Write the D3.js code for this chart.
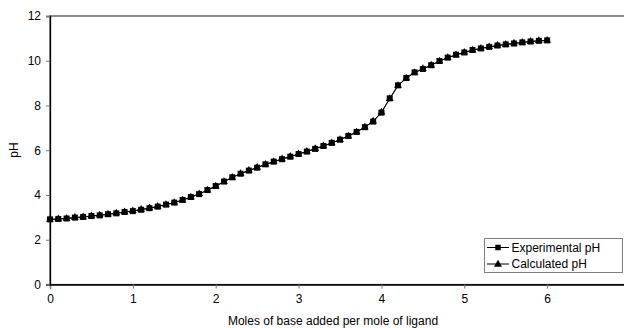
<!DOCTYPE html>
<html>
<head>
<meta charset="utf-8">
<script src="https://cdn.jsdelivr.net/npm/d3@7/dist/d3.min.js"></script>
<style>
  html, body { margin: 0; padding: 0; background: #fff; }
  svg { display: block; font-family: Arial, "Liberation Sans", sans-serif; }
</style>
</head>
<body>
<svg id="chart" width="624" height="328"></svg>
<script>
// Moles of base added per mole of ligand (0 to 6 in steps of 0.1)
const molesBase = [
  0.0, 0.1, 0.2, 0.3, 0.4, 0.5, 0.6, 0.7, 0.8, 0.9,
  1.0, 1.1, 1.2, 1.3, 1.4, 1.5, 1.6, 1.7, 1.8, 1.9,
  2.0, 2.1, 2.2, 2.3, 2.4, 2.5, 2.6, 2.7, 2.8, 2.9,
  3.0, 3.1, 3.2, 3.3, 3.4, 3.5, 3.6, 3.7, 3.8, 3.9,
  4.0, 4.1, 4.2, 4.3, 4.4, 4.5, 4.6, 4.7, 4.8, 4.9,
  5.0, 5.1, 5.2, 5.3, 5.4, 5.5, 5.6, 5.7, 5.8, 5.9, 6.0
];
const experimentalPH = [
  2.91, 2.93, 2.95, 2.99, 3.02, 3.06, 3.09, 3.14, 3.18, 3.24,
  3.28, 3.34, 3.41, 3.48, 3.57, 3.66, 3.78, 3.91, 4.04, 4.22,
  4.40, 4.60, 4.79, 4.95, 5.09, 5.22, 5.37, 5.49, 5.60, 5.71,
  5.83, 5.94, 6.06, 6.19, 6.33, 6.47, 6.64, 6.82, 7.03, 7.28,
  7.68, 8.32, 8.90, 9.23, 9.48, 9.63, 9.80, 9.99, 10.14, 10.27,
  10.37, 10.48, 10.55, 10.62, 10.68, 10.73, 10.77, 10.82, 10.86, 10.89, 10.91
];
const calculatedPH = [
  2.91, 2.93, 2.95, 2.99, 3.02, 3.06, 3.10, 3.14, 3.19, 3.24,
  3.29, 3.35, 3.42, 3.49, 3.57, 3.66, 3.77, 3.90, 4.05, 4.21,
  4.39, 4.59, 4.78, 4.95, 5.10, 5.23, 5.36, 5.49, 5.61, 5.72,
  5.83, 5.95, 6.07, 6.19, 6.32, 6.47, 6.63, 6.81, 7.03, 7.30,
  7.70, 8.30, 8.88, 9.22, 9.47, 9.64, 9.80, 9.98, 10.13, 10.26,
  10.37, 10.47, 10.55, 10.62, 10.68, 10.73, 10.78, 10.82, 10.86, 10.89, 10.91
];
const xTicks = [0, 1, 2, 3, 4, 5, 6];
const yTicks = [0, 2, 4, 6, 8, 10, 12];
const seriesNames = ["Experimental pH", "Calculated pH"];
const xTitle = "Moles of base added per mole of ligand";
const yTitle = "pH";

const svg = d3.select("#chart");
const x = d3.scaleLinear().domain([0, 7]).range([50, 630]);
const y = d3.scaleLinear().domain([0, 12]).range([284.5, 16]);

// plot area border (top edge visible, right edge off-canvas)
svg.append("rect")
  .attr("x", x(0)).attr("y", y(12))
  .attr("width", x(7) - x(0)).attr("height", y(0) - y(12))
  .attr("fill", "none").attr("stroke", "#404040").attr("stroke-width", 1.2);

// axes
const xAxis = svg.append("g").attr("transform", `translate(0,${y(0)})`)
  .call(d3.axisBottom(x).tickValues(xTicks).tickSize(4).tickPadding(6).tickFormat(d3.format("d")));
const yAxis = svg.append("g").attr("transform", `translate(${x(0)},0)`)
  .call(d3.axisLeft(y).tickValues(yTicks).tickSize(4).tickPadding(5).tickFormat(d3.format("d")));
[xAxis, yAxis].forEach(g => {
  g.select(".domain").attr("stroke", "#000").attr("stroke-width", 1.3);
  g.selectAll(".tick line").attr("stroke", "#777");
  g.selectAll(".tick text").attr("font-size", 12).attr("fill", "#000")
    .attr("font-family", "Arial, 'Liberation Sans', sans-serif");
});

// titles
svg.append("text").attr("x", 333).attr("y", 325)
  .attr("text-anchor", "middle").attr("font-size", 12).text(xTitle);
svg.append("text").attr("transform", `translate(18,150) rotate(-90)`)
  .attr("text-anchor", "middle").attr("font-size", 12).text(yTitle);

const line = d3.line().x(d => x(d[0])).y(d => y(d[1]));
const expData = molesBase.map((m, i) => [m, experimentalPH[i]]);
const calcData = molesBase.map((m, i) => [m, calculatedPH[i]]);

const sq = d3.symbol().type(d3.symbolSquare).size(36);
const tri = d3.symbol().type(d3.symbolTriangle).size(26);

// calculated
svg.append("path").datum(calcData).attr("d", line)
  .attr("fill", "none").attr("stroke", "#000").attr("stroke-width", 1);
// experimental
svg.append("path").datum(expData).attr("d", line)
  .attr("fill", "none").attr("stroke", "#000").attr("stroke-width", 1);

svg.append("g").selectAll("path").data(calcData).join("path")
  .attr("d", tri).attr("transform", d => `translate(${x(d[0])},${y(d[1])})`)
  .attr("fill", "#000");
svg.append("g").selectAll("path").data(expData).join("path")
  .attr("d", sq).attr("transform", d => `translate(${x(d[0])},${y(d[1])})`)
  .attr("fill", "#000");

// legend
const lg = svg.append("g");
lg.append("rect").attr("x", 484.5).attr("y", 238.5).attr("width", 138).attr("height", 34)
  .attr("fill", "#fff").attr("stroke", "#808080").attr("stroke-width", 1);
seriesNames.forEach((name, i) => {
  const cy = 247.5 + i * 16.5;
  lg.append("line").attr("x1", 487).attr("x2", 509).attr("y1", cy).attr("y2", cy)
    .attr("stroke", "#000").attr("stroke-width", 1);
  lg.append("path").attr("d", i === 0 ? d3.symbol().type(d3.symbolSquare).size(30)() : d3.symbol().type(d3.symbolTriangle).size(28)())
    .attr("transform", `translate(498,${cy + (i === 0 ? 0 : 0.5)})`).attr("fill", "#000");
  lg.append("text").attr("x", 511.5).attr("y", cy + 4.3).attr("font-size", 12).text(name);
});
</script>
</body>
</html>
